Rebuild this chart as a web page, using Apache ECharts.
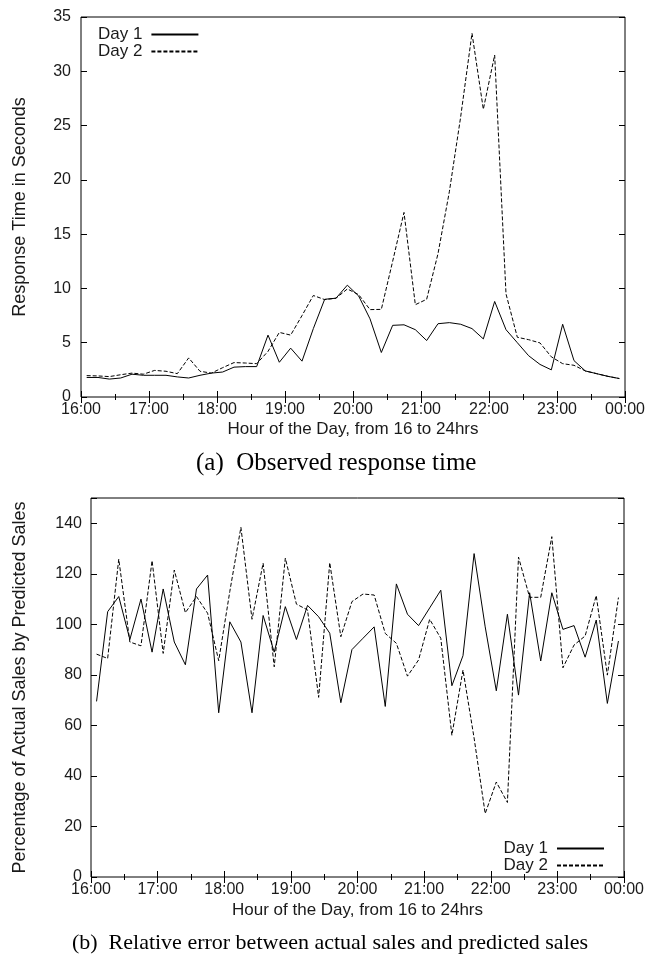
<!DOCTYPE html>
<html>
<head>
<meta charset="utf-8">
<script src="https://cdn.jsdelivr.net/npm/echarts@6/dist/echarts.min.js"></script>
<style>
html,body{margin:0;padding:0;background:#fff;}
#chart{width:660px;height:960px;}
</style>
</head>
<body>
<div id="chart"></div>
<script>
// sample times (every 10 minutes)
const times = ['16:05','16:15','16:25','16:35','16:45','16:55','17:05','17:15','17:25','17:35','17:45','17:55',
  '18:05','18:15','18:25','18:35','18:45','18:55','19:05','19:15','19:25','19:35','19:45','19:55',
  '20:05','20:15','20:25','20:35','20:45','20:55','21:05','21:15','21:25','21:35','21:45','21:55',
  '22:05','22:15','22:25','22:35','22:45','22:55','23:05','23:15','23:25','23:35','23:45','23:55'];
const hourTicks = ['16:00','17:00','18:00','19:00','20:00','21:00','22:00','23:00','00:00'];
const seriesNames = ['Day 1','Day 2'];

// (a) Observed response time (seconds)
const responseDay1 = [1.8,1.8,1.65,1.75,2.1,2.0,2.0,2.0,1.85,1.75,2.0,2.2,2.3,2.75,2.8,2.8,
  5.7,3.2,4.5,3.3,6.3,9.0,9.1,10.3,9.3,7.2,4.1,6.6,6.65,6.2,5.2,6.75,
  6.85,6.7,6.3,5.35,8.8,6.2,5.0,3.8,3.0,2.5,6.7,3.35,2.4,2.15,1.9,1.7];
const responseDay2 = [1.97,1.94,1.88,2.05,2.2,2.1,2.45,2.37,2.15,3.6,2.37,2.2,2.7,3.17,3.13,3.07,
  4.2,5.95,5.7,7.5,9.35,8.97,9.1,9.95,9.43,8.05,8.07,12.5,17.0,8.5,9.0,13.2,
  18.9,25.8,33.5,26.5,31.5,9.5,5.5,5.28,4.98,3.7,3.07,2.92,2.4,2.15,1.9,1.7];

// (b) Percentage of actual sales by predicted sales
const salesDay1 = [69.5,105,111,94,110,89,114,93,84,114,119.5,65,101,93,65,103.5,
  89,107,94,107.5,103,96.5,69,90,94.5,99,67.5,116,104,99.5,106.5,113.5,
  75.7,87.6,128,99,73.7,104,72,112.5,85.5,112.5,98,99.5,87,101.7,68.7,93.4];
const salesDay2 = [88.2,86.5,125.8,93,91.5,125.2,88.5,121.5,104.6,111,104.4,85.6,113,138.4,102,124.2,
  83.2,126.2,108,105.7,71.1,124.4,95.1,109,112,111.6,96.4,92.5,79.5,85.9,102,94.5,
  56.1,81.9,55,25.1,37.6,29.5,126.6,110.7,110.7,134.7,82.8,91.8,95.4,111.4,79.9,110.6];

function toHour(t){ const p = t.split(':'); return +p[0] + (+p[1])/60; }
const xs = times.map(toHour);
function pairs(vals){ return vals.map((v,i)=>[xs[i], v]); }
function hourLabel(v){ const i = Math.round(v) - 16; return hourTicks[i] !== undefined ? hourTicks[i] : ''; }

const TXT = '#1a1a1a';
const FONT = 'Liberation Sans, Arial, Helvetica, sans-serif';

function xAxisDef(grid, pos, withLabel, nameGap){
  return {
    type:'value', gridIndex:grid, position:pos, min:16, max:24, interval:1,
    axisLine:{show:false},
    axisTick:{show:true, inside:true, length:6, lineStyle:{color:'#000', width:1}},
    minorTick:{show:true, splitNumber:2, length:3, lineStyle:{color:'#000', width:1}},
    splitLine:{show:false}, minorSplitLine:{show:false},
    axisLabel:{show:withLabel, formatter:hourLabel, color:TXT, fontSize:16, fontFamily:FONT, margin:5},
    name: withLabel ? 'Hour of the Day, from 16 to 24hrs' : '',
    nameLocation:'middle', nameGap:nameGap || 21,
    nameTextStyle:{color:TXT, fontSize:17, fontFamily:FONT}
  };
}
function yAxisDef(grid, pos, withLabel, max, interval, name, gap, margin, nameSize){
  return {
    type:'value', gridIndex:grid, position:pos, min:0, max:max, interval:interval,
    axisLine:{show:false},
    axisTick:{show:true, inside:true, length:6, lineStyle:{color:'#000', width:1}},
    splitLine:{show:false},
    axisLabel:{show:withLabel, color:TXT, fontSize:16, fontFamily:FONT, margin:margin,
      formatter:(v)=> (v > max - 1e-9 && max % interval !== 0) ? '' : String(v)},
    name: withLabel ? name : '',
    nameLocation:'middle', nameGap:gap, nameRotate:90,
    nameTextStyle:{color:TXT, fontSize:nameSize || 16, fontFamily:FONT}
  };
}
function lineSeries(name, data, xi, yi, dashed){
  return {
    name:name, type:'line', xAxisIndex:xi, yAxisIndex:yi, data:data,
    symbol:'none', showSymbol:false, smooth:false,
    lineStyle:{color:'#000', width:1, type: dashed ? [4,2] : 'solid'},
    itemStyle:{color:'#000'}
  };
}
const legendCommon = {
  data:seriesNames, orient:'vertical', align:'right', itemWidth:47, itemHeight:10, itemGap:0,
  itemStyle:{opacity:0}, selectedMode:false,
  textStyle:{color:TXT, fontSize:17, fontFamily:FONT, lineHeight:16.5, padding:[0,4,0,0]}
};

const chart = echarts.init(document.getElementById('chart'), null, {renderer:'canvas'});
chart.setOption({
  animation:false,
  backgroundColor:'#fff',
  grid:[
    {left:81, top:17, width:544, height:380, show:true, borderColor:'#000', borderWidth:1, backgroundColor:'transparent'},
    {left:91, top:498, width:533, height:379, show:true, borderColor:'#000', borderWidth:1, backgroundColor:'transparent'}
  ],
  xAxis:[ xAxisDef(0,'bottom',true,24), xAxisDef(0,'top',false), xAxisDef(1,'bottom',true,25), xAxisDef(1,'top',false) ],
  yAxis:[
    yAxisDef(0,'left',true,35,5,'Response Time in Seconds',52,10,18),
    yAxisDef(0,'right',false,35,5,'',0,8),
    yAxisDef(1,'left',true,150,20,'Percentage of Actual Sales by Predicted Sales',62,9,18),
    yAxisDef(1,'right',false,150,20,'',0,8)
  ],
  legend:[
    Object.assign({left:93, top:21}, legendCommon),
    Object.assign({right:50, top:835}, legendCommon)
  ],
  series:[
    lineSeries(seriesNames[0], pairs(responseDay1), 0, 0, false),
    lineSeries(seriesNames[1], pairs(responseDay2), 0, 0, true),
    lineSeries(seriesNames[0], pairs(salesDay1), 2, 2, false),
    lineSeries(seriesNames[1], pairs(salesDay2), 2, 2, true)
  ],
  graphic:[
    {type:'text', left:196, top:451, style:{text:'(a)  Observed response time', fill:'#000', font:'25px "Liberation Serif", "Times New Roman", serif'}},
    {type:'text', left:'center', top:932, style:{text:'(b)  Relative error between actual sales and predicted sales', fill:'#000', font:'22px "Liberation Serif", "Times New Roman", serif'}}
  ]
});
</script>
</body>
</html>
